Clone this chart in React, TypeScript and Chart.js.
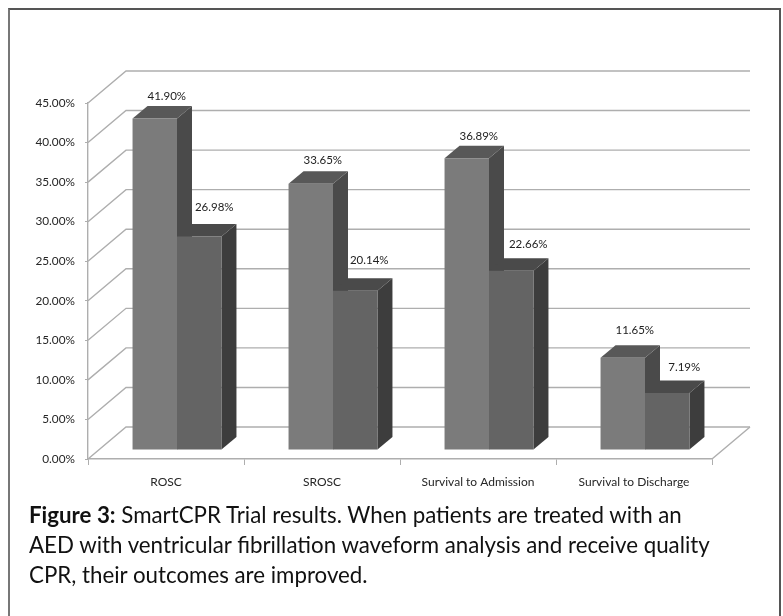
import React, { useEffect, useRef } from "react";
import { Chart, registerables } from "chart.js";

Chart.register(...registerables);

const categories = ["ROSC", "SROSC", "Survival to Admission", "Survival to Discharge"];
const treated = [41.9, 33.65, 36.89, 11.65];
const control = [26.98, 20.14, 22.66, 7.19];
const yMax = 45;
const yStep = 5;
const captionBold = "Figure 3:";
const captionLines = [
  " SmartCPR Trial results. When patients are treated with an",
  "AED with ventricular fibrillation waveform analysis and receive quality",
  "CPR, their outcomes are improved.",
];

const FAMILY = "Lato, 'Open Sans', sans-serif";

// projection of the pseudo-3D box, in px
const WALL_DX = 38;
const WALL_DY = -32;
const BAR_PLANE_DX = 11;
const BAR_PLANE_DY = -9;
const BAR_DEPTH_DX = 15;
const BAR_DEPTH_DY = -12.5;

const faceColors = [
  { front: "#7b7b7b", top: "#585858", side: "#4a4a4a" },
  { front: "#646464", top: "#4a4a4a", side: "#3d3d3d" },
];
// label nudge from the centre of each bar's front top edge
const labelNudge = [
  [[12, -22], [12, -23], [12, -22], [12, -28]],
  [[15, -29], [14, -30], [17, -26], [17, -26]],
];

function poly(ctx: CanvasRenderingContext2D, pts: number[][], fill: string) {
  ctx.beginPath();
  pts.forEach(([x, y], i) => (i ? ctx.lineTo(x, y) : ctx.moveTo(x, y)));
  ctx.closePath();
  ctx.fillStyle = fill;
  ctx.fill();
}

const box3d = {
  id: "box3d",
  beforeDatasetsDraw(chart: any) {
    const { ctx, chartArea: a, scales } = chart;
    ctx.save();
    ctx.lineWidth = 1.4;
    ctx.strokeStyle = "#aeaeae";
    // side wall diagonals and back wall lines
    scales.y.ticks.forEach((t: any) => {
      const y = scales.y.getPixelForValue(t.value);
      ctx.beginPath();
      ctx.moveTo(a.left, y);
      ctx.lineTo(a.left + WALL_DX, y + WALL_DY);
      ctx.lineTo(a.right + WALL_DX, y + WALL_DY);
      ctx.stroke();
    });
    // floor right edge
    ctx.beginPath();
    ctx.moveTo(a.right, a.bottom);
    ctx.lineTo(a.right + WALL_DX, a.bottom + WALL_DY);
    ctx.stroke();
    ctx.restore();

    // Bars sit on a plane further into the box
    ctx.save();
    ctx.translate(BAR_PLANE_DX, BAR_PLANE_DY);
    chart.data.datasets.forEach((_: any, di: number) => {
      chart.getDatasetMeta(di).data.forEach((bar: any) => {
        const l = bar.x - bar.width / 2;
        const r = bar.x + bar.width / 2;
        const t = bar.y;
        const b = bar.base;
        const c = faceColors[di];
        poly(ctx, [[r, t], [r + BAR_DEPTH_DX, t + BAR_DEPTH_DY], [r + BAR_DEPTH_DX, b + BAR_DEPTH_DY], [r, b]], c.side);
        poly(ctx, [[l, t], [l + BAR_DEPTH_DX, t + BAR_DEPTH_DY], [r + BAR_DEPTH_DX, t + BAR_DEPTH_DY], [r, t]], c.top);
      });
    });
  },
  afterDatasetsDraw(chart: any) {
    const { ctx } = chart;
    ctx.restore();
    ctx.save();
    ctx.font = `11.5px ${FAMILY}`;
    ctx.fillStyle = "#222";
    ctx.textAlign = "center";
    ctx.textBaseline = "middle";
    chart.data.datasets.forEach((ds: any, di: number) => {
      chart.getDatasetMeta(di).data.forEach((bar: any, i: number) => {
        const [nx, ny] = labelNudge[di][i];
        ctx.fillText(
          ds.data[i].toFixed(2) + "%",
          bar.x + BAR_PLANE_DX + nx,
          bar.y + BAR_PLANE_DY + ny
        );
      });
    });
    ctx.restore();
  },
};

export default function App() {
  const ref = useRef<HTMLCanvasElement>(null);
  useEffect(() => {
    const chart = new Chart(ref.current!, {
      type: "bar",
      data: {
        labels: categories,
        datasets: [
          { label: "Treated", data: treated, backgroundColor: faceColors[0].front },
          { label: "Control", data: control, backgroundColor: faceColors[1].front },
        ],
      },
      plugins: [box3d],
      options: {
        responsive: false,
        animation: false,
        events: [],
        layout: { padding: { left: 0, top: 103, right: 71, bottom: 0 } },
        plugins: { legend: { display: false }, tooltip: { enabled: false }, title: { display: false } },
        datasets: { bar: { categoryPercentage: 0.57, barPercentage: 1 } },
        scales: {
          x: {
            afterFit: (s: any) => { s.height = 157; },
            grid: { drawOnChartArea: false, drawTicks: true, tickLength: 6, color: "#aeaeae", offset: true },
            border: { color: "#aeaeae", width: 1.4 },
            ticks: { font: { family: FAMILY, size: 12 }, color: "#262626", padding: 10, maxRotation: 0, autoSkip: false },
          },
          y: {
            min: 0,
            max: yMax,
            afterFit: (s: any) => { s.width = 88; },
            grid: { drawOnChartArea: false, drawTicks: true, tickLength: 3, color: "#aeaeae" },
            border: { color: "#aeaeae", width: 1.4 },
            ticks: {
              stepSize: yStep,
              font: { family: FAMILY, size: 11.8 },
              color: "#262626",
              padding: 10,
              callback: (v: any) => Number(v).toFixed(2) + "%",
            },
          },
        },
      },
    } as any);
    return () => chart.destroy();
  }, []);

  return (
    <div style={{ position: "absolute", left: 0, top: 0, width: 783, height: 616, overflow: "hidden", background: "#fff" }}>
      <canvas ref={ref} width={783} height={616} style={{ position: "absolute", left: 0, top: 0, display: "block", filter: "blur(0.35px)" }} />
      <div style={{ position: "absolute", left: 8, top: 8, width: 769, height: 620, borderTop: "2px solid #555", borderLeft: "2px solid #777", borderRight: "2px solid #555" }} />
      <div style={{ position: "absolute", left: 29, top: 500, width: 745, font: `22.3px/29.8px ${FAMILY}`, color: "#111", whiteSpace: "pre" }}>
        <div><b>{captionBold}</b>{captionLines[0]}</div>
        <div>{captionLines[1]}</div>
        <div>{captionLines[2]}</div>
      </div>
    </div>
  );
}
